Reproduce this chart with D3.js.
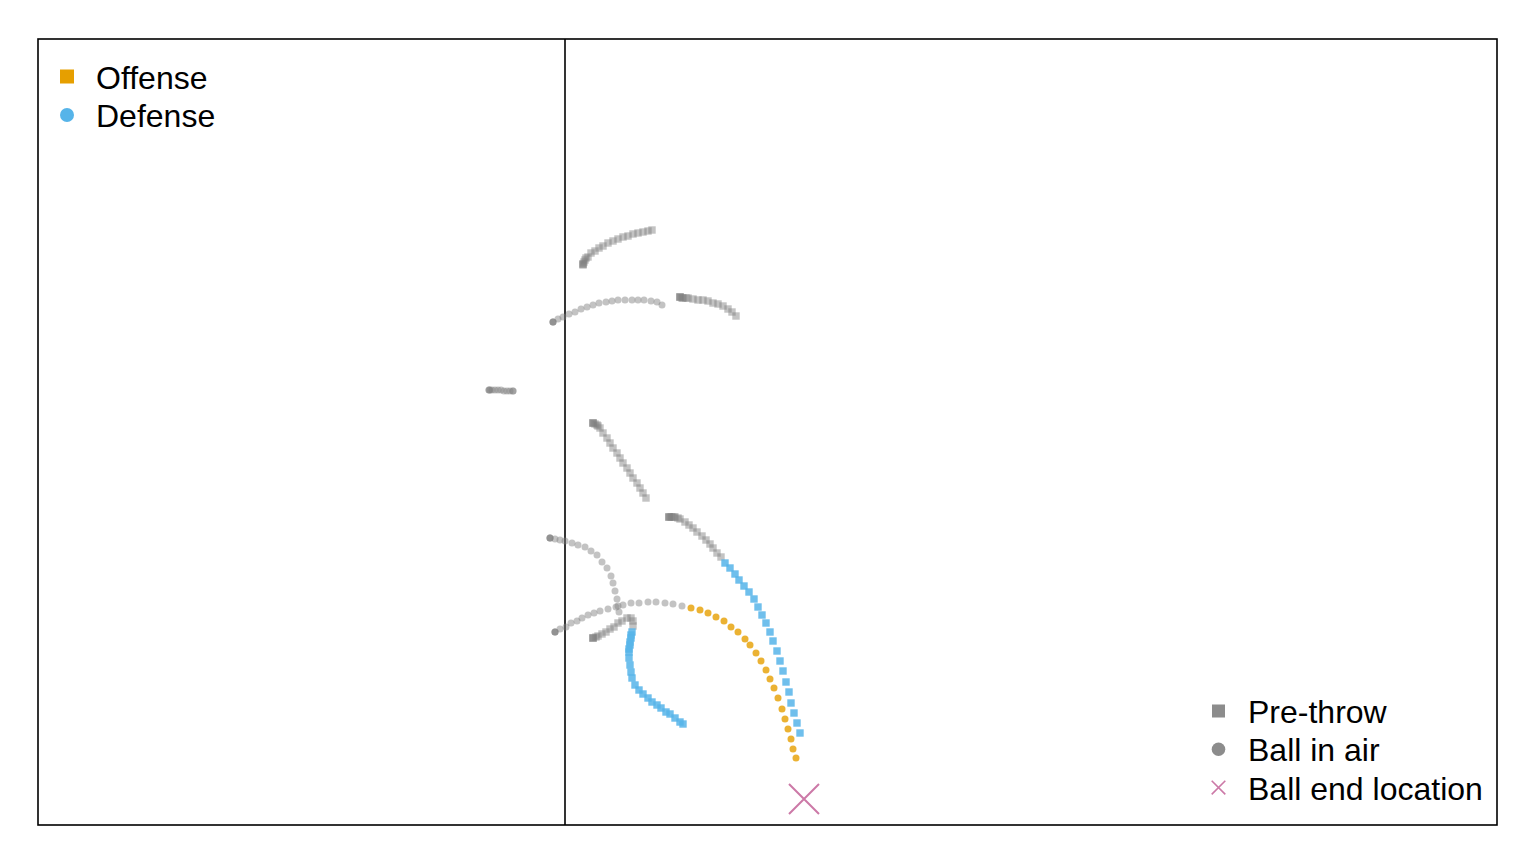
<!DOCTYPE html>
<html>
<head>
<meta charset="utf-8">
<script src="https://cdn.jsdelivr.net/npm/d3@7"></script>
<style>
  html, body { margin: 0; padding: 0; background: #fff; }
  svg { display: block; }
  text { font-family: "Liberation Sans", Arial, sans-serif; }
</style>
</head>
<body>
<svg id="chart" width="1536" height="864"></svg>
<script>
// ---- Data (field units) ----
const lineOfScrimmage = 52.7;
const ballEnd = { x: 76.6, y: 2.6 };

// Track A – defender, pre-throw only (squares)
const trackA_x = [54.5,54.5,54.5,54.6,54.7,54.8,55.0,55.3,55.7,56.1,56.5,57.0,57.5,58.0,58.5,59.0,59.5,60.0,60.5,61.0,61.4];
const trackA_y = [56.0,56.1,56.1,56.3,56.5,56.7,56.8,57.2,57.4,57.7,57.9,58.2,58.4,58.6,58.8,58.9,59.1,59.2,59.3,59.4,59.5];
// Track B – offense (circles)
const trackB_x = [51.5,51.5,51.5,52.0,52.5,53.1,53.7,54.3,54.9,55.5,56.1,56.8,57.4,58.0,58.7,59.4,60.0,60.6,61.3,61.9,62.4];
const trackB_y = [50.3,50.3,50.3,50.6,50.8,51.1,51.3,51.6,51.8,52.0,52.2,52.3,52.4,52.5,52.5,52.5,52.5,52.5,52.4,52.3,52.0];
// Track C – defense (squares)
const trackC_x = [64.2,64.2,64.2,64.4,64.5,64.8,65.0,65.5,66.0,66.5,67.0,67.5,68.0,68.5,69.0,69.4,69.8];
const trackC_y = [52.8,52.8,52.8,52.7,52.7,52.7,52.7,52.6,52.5,52.5,52.4,52.2,52.1,51.9,51.6,51.3,50.9];
// Track D – offense, quarterback (circles)
const trackD_x = [45.1,45.1,45.2,45.4,45.7,46.0,46.3,46.6,46.9,47.2,47.5,47.5];
const trackD_y = [43.5,43.5,43.5,43.5,43.5,43.5,43.5,43.4,43.4,43.4,43.4,43.4];
// Track E – defense (squares)
const trackE_x = [55.5,55.5,55.5,55.7,55.9,56.0,56.2,56.5,56.9,57.2,57.5,57.9,58.2,58.5,58.9,59.2,59.5,59.9,60.2,60.5,60.8];
const trackE_y = [40.2,40.2,40.2,40.1,40.0,39.9,39.7,39.2,38.7,38.2,37.7,37.2,36.7,36.2,35.7,35.2,34.7,34.2,33.7,33.2,32.7];
// Track F – defense, pre-throw (grey) then ball in air (blue)
const trackF_pre_x = [63.1,63.1,63.1,63.3,63.4,63.6,63.7,64.0,64.2,64.7,65.1,65.5,65.9,66.4,66.8,67.2,67.5,67.9,68.3];
const trackF_pre_y = [30.8,30.8,30.8,30.8,30.8,30.8,30.8,30.7,30.6,30.3,30.0,29.7,29.3,28.9,28.5,28.1,27.7,27.2,26.8];
const trackF_air_x = [68.7,69.2,69.7,70.1,70.6,71.1,71.6,72.0,72.4,72.8,73.2,73.5,73.9,74.2,74.5,74.8,75.1,75.3,75.6,75.9,76.2];
const trackF_air_y = [26.2,25.7,25.1,24.5,23.9,23.3,22.6,21.8,21.0,20.2,19.3,18.4,17.4,16.4,15.4,14.3,13.3,12.2,11.2,10.2,9.2];
// Track G – offense (circles)
const trackG_x = [51.2,51.2,51.2,51.7,52.2,52.7,53.4,54.0,54.7,55.3,55.9,56.4,56.9,57.3,57.5,57.7,57.9,58.0,58.1];
const trackG_y = [28.7,28.7,28.7,28.6,28.5,28.4,28.2,28.0,27.8,27.4,27.0,26.3,25.7,24.9,24.2,23.4,22.6,21.9,21.3];
// Track H – offense target, pre-throw (grey) then ball in air (orange)
const trackH_pre_x = [51.7,51.7,51.7,52.2,52.8,53.3,53.9,54.4,55.0,55.6,56.2,57.0,57.8,58.5,59.3,60.1,61.0,61.8,62.7,63.5,64.4];
const trackH_pre_y = [19.3,19.3,19.3,19.6,19.8,20.2,20.4,20.7,21.0,21.2,21.4,21.6,21.8,22.0,22.2,22.2,22.3,22.3,22.2,22.1,21.9];
const trackH_air_x = [65.3,66.2,67.0,67.8,68.6,69.3,70.0,70.7,71.2,71.8,72.3,72.8,73.2,73.6,74.0,74.4,74.7,75.0,75.3,75.5,75.8];
const trackH_air_y = [21.7,21.5,21.2,20.8,20.4,19.8,19.3,18.6,18.0,17.2,16.4,15.5,14.6,13.7,12.7,11.6,10.6,9.6,8.6,7.6,6.7];
// Track I – defense, pre-throw (grey) then ball in air (blue)
const trackI_pre_x = [55.5,55.5,55.5,55.8,56.0,56.4,56.8,57.2,57.6,58.0,58.4,58.9,59.3,59.5,59.5];
const trackI_pre_y = [18.7,18.7,18.7,18.8,18.9,19.1,19.3,19.6,19.8,20.2,20.4,20.7,20.7,20.4,19.9];
const trackI_air_x = [59.4,59.3,59.3,59.2,59.2,59.1,59.1,59.1,59.2,59.3,59.4,59.7,60.1,60.5,61.0,61.4,61.9,62.3,62.8,63.2,63.7,64.2,64.5];
const trackI_air_y = [19.3,19.0,18.7,18.3,18.0,17.6,17.3,16.7,16.0,15.3,14.7,14.0,13.5,13.1,12.7,12.3,12.0,11.7,11.3,11.1,10.7,10.3,10.1];

const teamLegend = ["Offense", "Defense"];
const phaseLegend = ["Pre-throw", "Ball in air", "Ball end location"];

// ---- Build series ----
const zip = (xs, ys) => xs.map((v, i) => ({ x: v, y: ys[i] }));
const series = [
  { pts: zip(trackA_x, trackA_y), shape: "square", color: "grey" },
  { pts: zip(trackB_x, trackB_y), shape: "circle", color: "grey" },
  { pts: zip(trackC_x, trackC_y), shape: "square", color: "grey" },
  { pts: zip(trackD_x, trackD_y), shape: "circle", color: "grey" },
  { pts: zip(trackE_x, trackE_y), shape: "square", color: "grey" },
  { pts: zip(trackF_pre_x, trackF_pre_y), shape: "square", color: "grey" },
  { pts: zip(trackG_x, trackG_y), shape: "circle", color: "grey" },
  { pts: zip(trackH_pre_x, trackH_pre_y), shape: "circle", color: "grey" },
  { pts: zip(trackI_pre_x, trackI_pre_y), shape: "square", color: "grey" },
  { pts: zip(trackI_air_x, trackI_air_y), shape: "square", color: "blue" },
  { pts: zip(trackF_air_x, trackF_air_y), shape: "square", color: "blue" },
  { pts: zip(trackH_air_x, trackH_air_y), shape: "circle", color: "orange" }
];

const colors = { grey: "#808080", blue: "#56B4E9", orange: "#E69F00", pink: "#CC79A7" };
const opac = { grey: 0.47, blue: 0.85, orange: 0.8 };

// ---- Layout ----
const svg = d3.select("#chart");
const pLeft = 38, pRight = 1497, pTop = 39, pBottom = 825;
const xS = d3.scaleLinear().domain([0, 145.9]).range([pLeft, pRight]);
const yS = d3.scaleLinear().domain([0, 78.6]).range([pBottom, pTop]);

// line of scrimmage
svg.append("line")
  .attr("x1", xS(lineOfScrimmage)).attr("x2", xS(lineOfScrimmage))
  .attr("y1", pTop).attr("y2", pBottom)
  .attr("stroke", "#000").attr("stroke-width", 1.6);

const sq = 7.4, rad = 3.5;
series.forEach(s => {
  const g = svg.append("g").attr("fill", colors[s.color]).attr("fill-opacity", opac[s.color]);
  if (s.shape === "square") {
    g.selectAll("rect").data(s.pts).join("rect")
      .attr("x", d => xS(d.x) - sq / 2).attr("y", d => yS(d.y) - sq / 2)
      .attr("width", sq).attr("height", sq);
  } else {
    g.selectAll("circle").data(s.pts).join("circle")
      .attr("cx", d => xS(d.x)).attr("cy", d => yS(d.y)).attr("r", rad);
  }
});

// ball end location
const xh = 15;
const bx = xS(ballEnd.x), by = yS(ballEnd.y);
svg.append("path")
  .attr("d", `M${bx - xh},${by - xh}L${bx + xh},${by + xh}M${bx - xh},${by + xh}L${bx + xh},${by - xh}`)
  .attr("stroke", colors.pink).attr("stroke-width", 2).attr("fill", "none");

// frame
svg.append("rect")
  .attr("x", pLeft).attr("y", pTop).attr("width", pRight - pLeft).attr("height", pBottom - pTop)
  .attr("fill", "none").attr("stroke", "#000").attr("stroke-width", 1.6);

// ---- Legends ----
const fs = 32;
const tl = svg.append("g");
teamLegend.forEach((lab, i) => {
  const cy = 76.5 + i * 38.5;
  if (i === 0) {
    tl.append("rect").attr("x", 60).attr("y", cy - 7).attr("width", 14).attr("height", 14).attr("fill", colors.orange);
  } else {
    tl.append("circle").attr("cx", 67).attr("cy", cy).attr("r", 7).attr("fill", colors.blue);
  }
  tl.append("text").attr("x", 96).attr("y", cy + 12).attr("font-size", fs).attr("fill", "#000").text(lab);
});

const pl = svg.append("g");
phaseLegend.forEach((lab, i) => {
  const cy = 711 + i * 38.3;
  const cx = 1218.5;
  if (i === 0) {
    pl.append("rect").attr("x", cx - 6.5).attr("y", cy - 6.5).attr("width", 13).attr("height", 13).attr("fill", "#8c8c8c");
  } else if (i === 1) {
    pl.append("circle").attr("cx", cx).attr("cy", cy).attr("r", 6.8).attr("fill", "#8c8c8c");
  } else {
    const k = 6.8;
    pl.append("path").attr("d", `M${cx - k},${cy - k}L${cx + k},${cy + k}M${cx - k},${cy + k}L${cx + k},${cy - k}`)
      .attr("stroke", colors.pink).attr("stroke-width", 1.6).attr("fill", "none");
  }
  pl.append("text").attr("x", 1248).attr("y", cy + 12).attr("font-size", fs).attr("fill", "#000").text(lab);
});
</script>
</body>
</html>
